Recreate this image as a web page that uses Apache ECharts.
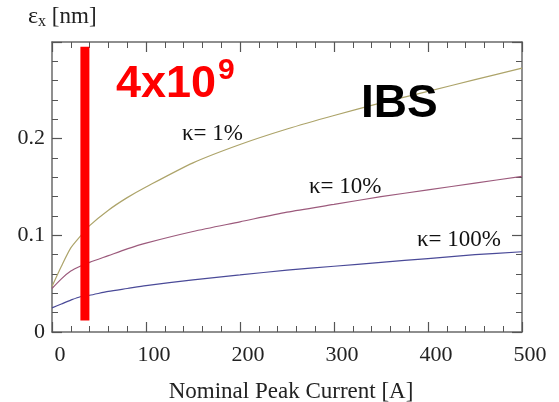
<!DOCTYPE html>
<html>
<head>
<meta charset="utf-8">
<script src="https://cdn.jsdelivr.net/npm/echarts@6/dist/echarts.min.js"></script>
<style>html,body{margin:0;padding:0;background:#fff}#c{width:559px;height:402px}</style>
</head>
<body>
<div id="c"></div>
<script>
// Data
var currents = [0, 10, 20, 30, 40, 60, 80, 100, 150, 200, 250, 300, 350, 400, 450, 500];
var kappa1   = [0.047, 0.068, 0.087, 0.099, 0.110, 0.126, 0.139, 0.150, 0.175, 0.194, 0.210, 0.224, 0.237, 0.249, 0.261, 0.273];
var kappa10  = [0.045, 0.055, 0.063, 0.068, 0.072, 0.079, 0.086, 0.092, 0.104, 0.114, 0.124, 0.132, 0.140, 0.147, 0.154, 0.161];
var kappa100 = [0.025, 0.029, 0.033, 0.0365, 0.038, 0.042, 0.045, 0.048, 0.054, 0.059, 0.064, 0.068, 0.072, 0.076, 0.080, 0.083];
var seriesNames = ['κ= 1%', 'κ= 10%', 'κ= 100%'];
var redBarX = [35, 35];
var redBarY = [0.012, 0.295];
var xTicks = [0, 100, 200, 300, 400, 500];
var yTicks = [0, 0.1, 0.2];

function pairs(xs, ys) { return xs.map(function (x, i) { return [x, ys[i]]; }); }

var serif = 'Liberation Serif';
var chart = echarts.init(document.getElementById('c'), null, { renderer: 'canvas' });

function axisCommon(extra) {
  var base = {
    axisLine: { show: true, onZero: false, lineStyle: { color: '#6a6a6a', width: 1.5 } },
    axisTick: { show: true, inside: true, length: 10, lineStyle: { color: '#555', width: 1.2 } },
    minorTick: { show: true, splitNumber: 5, length: 6, lineStyle: { color: '#555', width: 1 } },
    splitLine: { show: false }
  };
  for (var k in extra) base[k] = extra[k];
  return base;
}

chart.setOption({
  animation: false,
  backgroundColor: '#fff',
  grid: { left: 52, right: 37, top: 42, bottom: 70, containLabel: false, outerBoundsMode: 'none' },
  xAxis: [
    axisCommon({
      type: 'value', min: 0, max: 500, interval: 100, position: 'bottom',
      name: 'Nominal Peak Current [A]', nameLocation: 'middle', nameGap: 48,
      nameTextStyle: { fontFamily: serif, fontSize: 23, color: '#222', padding: [0, 0, 0, 8] },
      axisLabel: { fontFamily: serif, fontSize: 22, color: '#222', margin: 12, padding: [0, 0, 0, 16],
        formatter: function (v) { return xTicks.indexOf(v) >= 0 ? String(v) : ''; } }
    }),
    axisCommon({
      type: 'value', min: 0, max: 500, interval: 100, position: 'top',
      axisLabel: { show: false }
    })
  ],
  yAxis: [
    axisCommon({
      type: 'value', min: 0, max: 0.3, interval: 0.1, position: 'left',
      axisLabel: { fontFamily: serif, fontSize: 22, color: '#222', margin: 7,
        formatter: function (v) {
          var r = Math.round(v * 10) / 10;
          return yTicks.indexOf(r) >= 0 ? String(r) : '';
        } }
    }),
    axisCommon({
      type: 'value', min: 0, max: 0.3, interval: 0.1, position: 'right',
      axisLabel: { show: false }
    })
  ],
  series: [
    { name: seriesNames[0], type: 'line', data: pairs(currents, kappa1), smooth: 0.25, symbol: 'none',
      lineStyle: { color: '#ada46a', width: 1.2 } },
    { name: seriesNames[1], type: 'line', data: pairs(currents, kappa10), smooth: 0.25, symbol: 'none',
      lineStyle: { color: '#9c5a7c', width: 1.2 } },
    { name: seriesNames[2], type: 'line', data: pairs(currents, kappa100), smooth: 0.25, symbol: 'none',
      lineStyle: { color: '#4a4a98', width: 1.2 } },
    { name: 'bar', type: 'line', data: pairs(redBarX, redBarY), symbol: 'none', z: 5,
      lineStyle: { color: '#ff0000', width: 9, cap: 'butt' } }
  ],
  graphic: [
    { type: 'text', left: 28, top: 5, style: {
      text: '{e|ε}{s|x}{n| [nm]}',
      rich: {
        e: { fontFamily: serif, fontSize: 24, fill: '#222' },
        s: { fontFamily: serif, fontSize: 16, fill: '#222', padding: [9, 0, 0, 0] },
        n: { fontFamily: serif, fontSize: 23, fill: '#222' }
      } } },
    { type: 'text', x: 116, y: 85, z: 10, style: {
      text: '4x10', fontFamily: 'Liberation Sans', fontWeight: 'bold', fontSize: 45,
      fill: '#ff0000', textVerticalAlign: 'middle' } },
    { type: 'text', x: 218, y: 71, z: 10, style: {
      text: '9', fontFamily: 'Liberation Sans', fontWeight: 'bold', fontSize: 30,
      fill: '#ff0000', textVerticalAlign: 'middle' } },
    { type: 'text', x: 361, y: 104, z: 10, style: {
      text: 'IBS', fontFamily: 'Liberation Sans', fontWeight: 'bold', fontSize: 46,
      fill: '#000', textVerticalAlign: 'middle' } },
    { type: 'text', x: 182, y: 134, z: 10, style: {
      text: seriesNames[0], fontFamily: serif, fontSize: 23, fill: '#111', textVerticalAlign: 'middle' } },
    { type: 'text', x: 309, y: 187, z: 10, style: {
      text: seriesNames[1], fontFamily: serif, fontSize: 23, fill: '#111', textVerticalAlign: 'middle' } },
    { type: 'text', x: 417, y: 240, z: 10, style: {
      text: seriesNames[2], fontFamily: serif, fontSize: 23, fill: '#111', textVerticalAlign: 'middle' } }
  ]
});
</script>
</body>
</html>
